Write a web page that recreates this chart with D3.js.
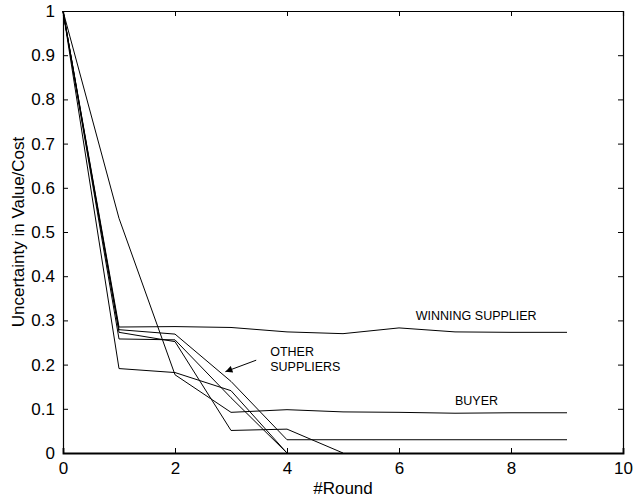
<!DOCTYPE html>
<html>
<head>
<meta charset="utf-8">
<style>
  body { margin: 0; background: #fff; }
  text { font-family: "Liberation Sans", Arial, sans-serif; fill: #000; }
</style>
</head>
<body>
<svg width="634" height="497"></svg>
<script src="https://cdn.jsdelivr.net/npm/d3@7"></script>
<script>

// rounds 0..9 and the uncertainty of each agent
const rounds = [0, 1, 2, 3, 4, 5, 6, 7, 8, 9];
const winning = [1, 0.285, 0.286, 0.284, 0.274, 0.270, 0.283, 0.274, 0.273, 0.273];
const buyer   = [1, 0.531, 0.177, 0.092, 0.098, 0.093, 0.092, 0.090, 0.091, 0.091];
const other1  = [1, 0.191, 0.182, 0.141, 0];
const other2  = [1, 0.279, 0.269, 0.162, 0.030, 0.030, 0.030, 0.030, 0.030, 0.030];
const other3  = [1, 0.273, 0.252, 0.051, 0.054, 0];
const other4  = [1, 0.258, 0.256, 0.125, 0];
const xTicks = [0, 2, 4, 6, 8, 10];
const yTicks = [0, 0.1, 0.2, 0.3, 0.4, 0.5, 0.6, 0.7, 0.8, 0.9, 1];

const margin = {top: 11, right: 11, bottom: 44, left: 63};
const width = 634 - margin.left - margin.right;   // 560
const height = 497 - margin.top - margin.bottom;  // 442

const x = d3.scaleLinear().domain([0, 10]).range([0, width]);
const y = d3.scaleLinear().domain([0, 1]).range([height, 0]);
const line = d3.line().x((d, i) => x(rounds[i])).y(d => y(d));

const svg = d3.select('svg');
const chart = svg.append('g')
  .attr('transform', 'translate(' + margin.left + ',' + margin.top + ')');

// axes, ticks point inwards on all four sides
chart.append('g').attr('class', 'bottom').attr('transform', 'translate(0,' + height + ')')
  .call(d3.axisBottom(x).tickValues(xTicks).tickSize(-5).tickPadding(9).tickFormat(d3.format('d')));
chart.append('g').call(d3.axisTop(x).tickValues(xTicks).tickSize(-5).tickFormat(''));
chart.append('g')
  .call(d3.axisLeft(y).tickValues(yTicks).tickSize(-5).tickPadding(8).tickFormat(d => d === 0 || d === 1 ? d : d.toFixed(1)));
chart.append('g').attr('transform', 'translate(' + width + ',0)')
  .call(d3.axisRight(y).tickValues(yTicks).tickSize(-5).tickFormat(''));

chart.selectAll('.domain').attr('stroke', '#000').attr('stroke-width', 1.2);
chart.select('.bottom .domain').attr('stroke-width', 1.8);
chart.selectAll('.tick line').attr('stroke', '#000');
chart.selectAll('.tick text').style('font-size', '17px').attr('font-family', null);

// the series
const series = [winning, buyer, other1, other2, other3, other4];
chart.selectAll('path.series')
  .data(series).enter()
  .append('path')
  .attr('class', 'series')
  .attr('fill', 'none')
  .attr('stroke', '#000')
  .attr('stroke-width', 1)
  .attr('d', line);

// annotations
chart.append('text').text('WINNING SUPPLIER')
  .attr('x', x(6.3)).attr('y', y(0.3)).style('font-size', '12.5px');
chart.append('text').text('BUYER')
  .attr('x', x(7.0)).attr('y', y(0.11) + 1).style('font-size', '12.5px');
chart.append('text').text('OTHER')
  .attr('x', x(3.7)).attr('y', y(0.22)).style('font-size', '12.5px');
chart.append('text').text('SUPPLIERS')
  .attr('x', x(3.7)).attr('y', y(0.185)).style('font-size', '12.5px');

svg.append('defs').append('marker')
  .attr('id', 'head').attr('viewBox', '0 0 10 10')
  .attr('refX', 10).attr('refY', 5)
  .attr('markerWidth', 9).attr('markerHeight', 7)
  .attr('markerUnits', 'userSpaceOnUse')
  .attr('orient', 'auto')
  .append('path').attr('d', 'M0,0 L10,5 L0,10 z').attr('fill', '#000');

chart.append('line')
  .attr('x1', x(3.45)).attr('y1', y(0.21))
  .attr('x2', x(2.9)).attr('y2', y(0.184))
  .attr('stroke', '#000').attr('stroke-width', 1)
  .attr('marker-end', 'url(#head)');

// axis titles
svg.append('text').text('#Round')
  .attr('x', margin.left + width / 2).attr('y', 494)
  .attr('text-anchor', 'middle').style('font-size', '17px');
svg.append('text').text('Uncertainty in Value/Cost')
  .attr('transform', 'translate(24,' + (margin.top + height / 2) + ') rotate(-90)')
  .attr('text-anchor', 'middle').style('font-size', '17px');
</script>
</body>
</html>
